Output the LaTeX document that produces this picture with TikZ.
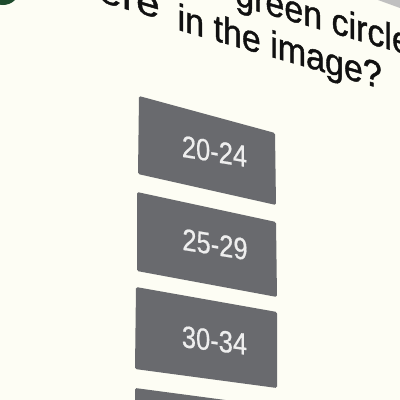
\documentclass[tikz,border=0pt]{standalone}
\usepackage{fontspec}
\setmainfont{Liberation Sans}
\newfontface\qfont{Liberation Sans}[FakeBold=1.2]
\newfontface\lfont{Liberation Sans}[FakeBold=0.6]
\definecolor{bg}{RGB}{253,253,244}
\definecolor{btn}{RGB}{105,106,110}
\definecolor{btntext}{RGB}{238,238,238}
\definecolor{cornergray}{RGB}{192,192,192}
\definecolor{dgreen}{RGB}{30,75,45}
\definecolor{qtext}{RGB}{17,17,17}
\begin{document}
\begin{tikzpicture}[x=1pt,y=1pt,
  answer/.style={fill=btn, draw=none, rounded corners=1.5pt},
  answertext/.style={text=btntext, font=\lfont\fontsize{25.5}{30}\selectfont, inner sep=0pt, anchor=base, yscale=1.2},
  question/.style={text=qtext, font=\qfont\fontsize{34}{40}\selectfont, inner sep=0pt}]
\useasboundingbox (0,0) rectangle (400,-400);
\clip (0,0) rectangle (400,-400);
\fill[bg] (0,0) rectangle (400,-400);
\fill[cornergray] (378,0) -- (400,0) -- (400,-8) -- cycle;
\fill[dgreen] (3,12) circle (17);
% question text
\node[question, yslant=-0.29, yscale=1.1, anchor=base west] (q1) at (235,-4.8) {green circle};
\node[question, yslant=-0.29, xscale=1.25, yscale=1.1, anchor=base east] (q0) at (160,-19) {ere};
\node[question, yslant=-0.29, yscale=1.1, anchor=base east] (q2) at (382,-89) {in the image?};
% answer buttons
\fill[answer] (139,-96) -- (275,-133) -- (276,-205) -- (138,-174) -- cycle;
\node[yslant=-0.16, answertext] (l1) at (214.5,-162) {20-24};
\fill[answer] (137,-192) -- (276,-222) -- (277,-297) -- (137,-271) -- cycle;
\node[yslant=-0.16, answertext] (l2) at (215,-255) {25-29};
\fill[answer] (136,-287) -- (277,-312) -- (277,-388) -- (135,-369) -- cycle;
\node[yslant=-0.12, answertext] (l3) at (214.5,-351) {30-34};
\fill[answer] (135,-388) -- (278,-407) -- (278,-450) -- (135,-450) -- cycle;
\end{tikzpicture}
\end{document}
